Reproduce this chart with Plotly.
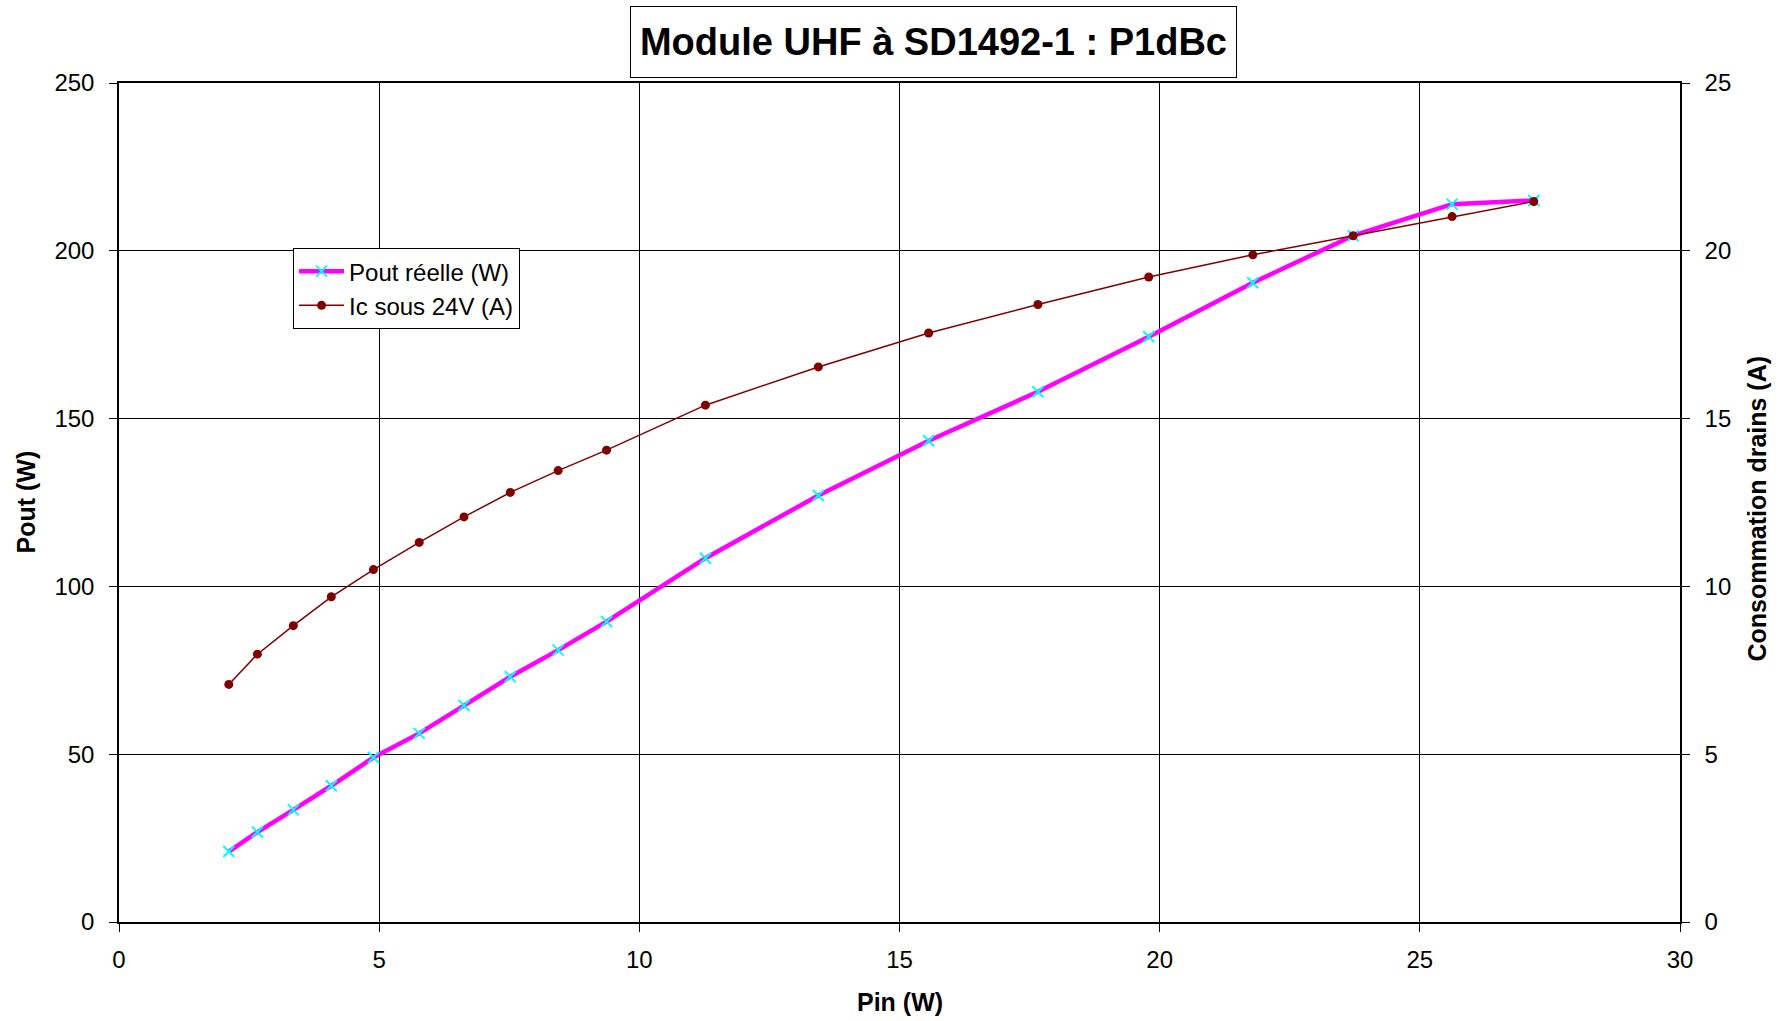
import plotly.graph_objects as go

# Data
pin_w = [2.11, 2.66, 3.35, 4.08, 4.89, 5.77, 6.63, 7.52, 8.44, 9.37,
         11.27, 13.44, 15.56, 17.66, 19.79, 21.79, 23.72, 25.62, 27.19]
pout_w = [21.0, 26.8, 33.4, 40.6, 49.0, 56.2, 64.5, 73.1, 81.0, 89.5,
          108.4, 127.1, 143.4, 158.0, 174.4, 190.5, 204.5, 213.9, 215.0]
ic_a = [7.08, 7.98, 8.83, 9.69, 10.50, 11.31, 12.07, 12.80, 13.45, 14.06,
        15.40, 16.54, 17.55, 18.40, 19.22, 19.88, 20.45, 21.02, 21.47]

title_text = "Module UHF à SD1492-1 : P1dBc"
x_title = "Pin (W)"
y_title = "Pout (W)"
y2_title = "Consommation drains (A)"
name_pout = "Pout réelle (W)"
name_ic = "Ic sous 24V (A)"

FONT = "Liberation Sans, Arial, sans-serif"

fig = go.Figure()
fig.add_trace(go.Scatter(
    x=pin_w, y=pout_w, name=name_pout, mode="lines+markers",
    line=dict(color="#FF00FF", width=4.5),
    marker=dict(symbol="x-thin", size=11, color="#00FFFF",
                line=dict(color="#00FFFF", width=2)),
    yaxis="y",
))
fig.add_trace(go.Scatter(
    x=pin_w, y=ic_a, name=name_ic, mode="lines+markers",
    line=dict(color="#800000", width=1.5),
    marker=dict(symbol="circle", size=9, color="#800000"),
    yaxis="y2",
))

axis_common = dict(
    showline=True, linecolor="black", linewidth=1.5,
    ticks="outside", ticklen=8, tickcolor="black", tickwidth=1,
    tickfont=dict(family=FONT, size=24, color="black"),
    zeroline=False,
)

fig.update_layout(
    width=1782, height=1021,
    paper_bgcolor="white", plot_bgcolor="white",
    margin=dict(l=119, r=102, t=83, b=99),
    font=dict(family=FONT, color="black"),
    showlegend=True,
    legend=dict(
        x=0.1115, y=0.8033, xanchor="left", yanchor="top",
        bgcolor="white", bordercolor="black", borderwidth=1,
        font=dict(family=FONT, size=24, color="black"),
        tracegroupgap=0, itemwidth=45,
    ),
    xaxis=dict(
        range=[0, 30], dtick=5, tick0=0,
        showgrid=True, gridcolor="black", gridwidth=1,
        mirror=True, ticklabelstandoff=7,
        **axis_common,
    ),
    yaxis=dict(
        range=[0, 250], dtick=50, tick0=0,
        showgrid=True, gridcolor="black", gridwidth=1,
        ticklabelstandoff=10,
        **axis_common,
    ),
    yaxis2=dict(
        range=[0, 25], dtick=5, tick0=0,
        overlaying="y", side="right", showgrid=False,
        ticklabelstandoff=10,
        **axis_common,
    ),
    annotations=[
        dict(text="<b>" + title_text + "</b>", xref="paper", yref="paper",
             x=0.5218, y=1, xanchor="center", yanchor="middle", yshift=41,
             showarrow=False, font=dict(family=FONT, size=38, color="black"),
             bordercolor="black", borderwidth=1, borderpad=4,
             bgcolor="white", width=597, height=62, align="center", valign="middle"),
        dict(text="<b>" + x_title + "</b>", xref="paper", yref="paper",
             x=0.5, y=0, xanchor="center", yanchor="middle", yshift=-80,
             showarrow=False, font=dict(family=FONT, size=25, color="black")),
        dict(text="<b>" + y_title + "</b>", xref="paper", yref="paper",
             x=0, y=0.5, xanchor="center", yanchor="middle", xshift=-94,
             textangle=-90,
             showarrow=False, font=dict(family=FONT, size=25, color="black")),
        dict(text="<b>" + y2_title + "</b>", xref="paper", yref="paper",
             x=1, y=0.5, xanchor="center", yanchor="middle", xshift=76, yshift=-6,
             textangle=-90,
             showarrow=False, font=dict(family=FONT, size=25, color="black")),
    ],
)

fig.write_html("out.html")
